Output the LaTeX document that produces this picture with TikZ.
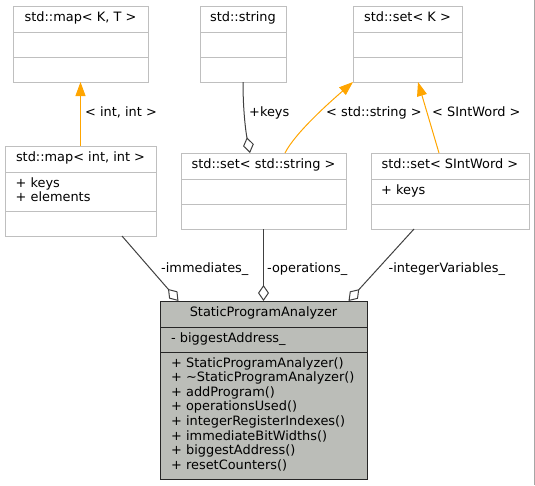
\documentclass[tikz,border=0pt]{standalone}
\usepackage{fontspec}
\setmainfont{DejaVu Sans}
\usetikzlibrary{arrows.meta}

\definecolor{boxgray}{HTML}{BFBFBF}
\definecolor{mainfill}{RGB}{187,189,184}
\definecolor{edgegray}{HTML}{404040}
\definecolor{inhorange}{HTML}{FFA500}

\tikzset{
  classbox/.style={draw=boxgray, line width=1pt, fill=white, inner sep=0pt, outer sep=0pt, anchor=north west},
  mainbox/.style={classbox, draw=black!85, fill=mainfill},
  title/.style={anchor=base, inner sep=0pt},
  member/.style={anchor=base west, inner sep=0pt},
  elabel/.style={anchor=base west, inner sep=0pt},
  divider/.style={draw=boxgray, line width=1pt},
  maindivider/.style={draw=black!85, line width=1pt},
  aggr/.style={draw=edgegray, line width=1pt, -{Diamond[open, length=16pt, width=11pt]}},
  inherit/.style={draw=inhorange, line width=1pt, -{Triangle[length=14pt, width=10pt]}}
}

\begin{document}
\begin{tikzpicture}[x=1pt, y=-1pt, every node/.append style={font=\fontsize{12.9}{14.6}\selectfont}]
\useasboundingbox (0,0) rectangle (535,485);

% template classes
\node (mapkt)[classbox, minimum width=135pt, minimum height=76pt] at (13,6) {};
\node (str)[classbox, minimum width=86pt, minimum height=76pt] at (200,6) {};
\node (setk)[classbox, minimum width=109pt, minimum height=76pt] at (353,6) {};

% instantiations
\node (mapii)[classbox, minimum width=151pt, minimum height=90pt] at (5,146) {};
\node (setstr)[classbox, minimum width=165pt, minimum height=76pt] at (181,153) {};
\node (setsiw)[classbox, minimum width=158pt, minimum height=76pt] at (371,153) {};

% the analyzer
\node (spa)[mainbox, minimum width=207pt, minimum height=178pt] at (160,301) {};

\foreach \n/\y in {mapkt/32, mapkt/57, str/32, str/57, setk/32, setk/57,
    mapii/172, mapii/211, setstr/179, setstr/204, setsiw/179, setsiw/204}
  \draw[divider] (\n.west |- 0,\y) -- (\n.east |- 0,\y);
\draw[maindivider] (spa.west |- 0,327) -- (spa.east |- 0,327);
\draw[maindivider] (spa.west |- 0,352) -- (spa.east |- 0,352);

\node (mapktname)[title] at ([yshift=-15.5pt]mapkt.north) {std::map< K, T >};
\node (strname)[title] at ([yshift=-15.5pt]str.north) {std::string};
\node (setkname)[title] at ([yshift=-15.5pt]setk.north) {std::set< K >};
\node (mapiiname)[title] at ([yshift=-15.5pt]mapii.north) {std::map< int, int >};
\node (setstrname)[title] at ([yshift=-15.5pt]setstr.north) {std::set< std::string >};
\node (setsiwname)[title] at ([yshift=-15.5pt]setsiw.north) {std::set< SIntWord >};
\node (spaname)[title] at ([yshift=-15.5pt]spa.north) {StaticProgramAnalyzer};

\node (mapiikeys)[member] at (15.5,187) {+ keys};
\node (mapiielems)[member] at (15.5,201.7) {+ elements};
\node (setsiwkeys)[member] at (381,194) {+ keys};
\node (spaattr)[member] at (171,342) {- biggestAddress\_};
\foreach \m [count=\i from 0] in {+ StaticProgramAnalyzer(), + \textasciitilde StaticProgramAnalyzer(),
    + addProgram(), + operationsUsed(), + integerRegisterIndexes(), + immediateBitWidths(),
    + biggestAddress(), + resetCounters()}
  \node (spam\i)[member] at (171,367+14.6*\i) {\m};

% inheritance
\draw[inherit] (mapii.north) -- (mapkt.south);
\draw[inherit] ([xshift=21.5pt]setstr.north) .. controls +(10,-20) and +(-23,20) .. (setk.south west);
\draw[inherit] ([xshift=-11pt]setsiw.north) -- ([xshift=10.5pt]setk.south);
\node (lintint)[elabel] at (85,116.5) {< int, int >};
\node (lstdstring)[elabel] at (326,116.5) {< std::string >};
\node (lsintword)[elabel] at (432,116.5) {< SIntWord >};

% members
\draw[aggr] (str.south) .. controls +(0,30) and +(-4,-20) .. ([xshift=-13.5pt]setstr.north);
\draw[aggr] ([xshift=41.5pt]mapii.south) -- ([xshift=-85pt]spa.north);
\draw[aggr] (setstr.south) -- (spa.north);
\draw[aggr] ([xshift=-36pt]setsiw.south) -- ([xshift=85pt]spa.north);
\node (lkeys)[elabel] at (249,116.5) {+keys};
\node (limm)[elabel] at (161,272) {-immediates\_};
\node (lops)[elabel] at (267,272) {-operations\_};
\node (lintvars)[elabel] at (388.5,272) {-integerVariables\_};

\draw[draw=gray!70, line width=1pt] (534.5,0) -- (534.5,485);
\end{tikzpicture}
\end{document}
